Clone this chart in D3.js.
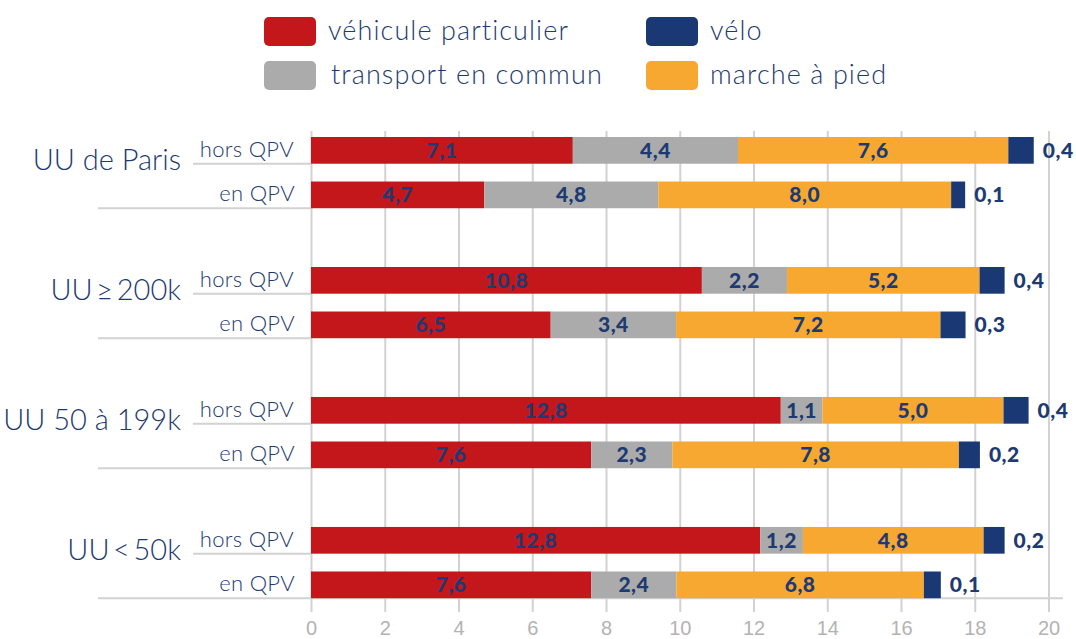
<!DOCTYPE html>
<meta charset="utf-8">
<style>
body { margin: 0; background: #fff; }
svg { font-family: Lato, "Open Sans", sans-serif; }
.x.axis .domain { display: none; }
.x.axis line { stroke: #d2d2d2; stroke-width: 2px; }
.x.axis text { fill: #b3b3b3; font-size: 20px; font-weight: 300; }
.sep { stroke: #d2d2d2; stroke-width: 2px; }
.grp { fill: #1d3a72; font-size: 29px; font-weight: 300; }
.row { fill: #1d3a72; font-size: 22px; font-weight: 300; letter-spacing: 0.3px; }
.val { fill: #1d3a72; font-size: 21px; font-weight: 900; letter-spacing: 0.5px; }
.leg { fill: #1d3a72; font-size: 27px; font-weight: 300; letter-spacing: 1.1px; }
</style>
<div id="chart"></div>
<script src="https://d3js.org/d3.v7.min.js"></script>
<script>

// categories
var groups = ["UU de Paris", "UU\u2009≥\u2009200k", "UU 50 à 199k", "UU\u2009<\u200950k"];
var rows = ["hors QPV", "en QPV"];
var modes = ["véhicule particulier", "transport en commun", "marche à pied", "vélo"];
var xTicks = [0, 2, 4, 6, 8, 10, 12, 14, 16, 18, 20];

// bar lengths as drawn (Paris hors, Paris en, >=200k hors, ...)
var voiture = [7.1, 4.7, 10.6, 6.5, 12.74, 7.6, 12.18, 7.6];
var transport = [4.48, 4.72, 2.31, 3.4, 1.13, 2.2, 1.16, 2.31];
var marche = [7.33, 7.94, 5.22, 7.17, 4.91, 7.77, 4.9, 6.71];
var velo = [0.69, 0.38, 0.68, 0.68, 0.68, 0.57, 0.57, 0.46];

// printed labels
var voitureLbl = ["7,1", "4,7", "10,8", "6,5", "12,8", "7,6", "12,8", "7,6"];
var transportLbl = ["4,4", "4,8", "2,2", "3,4", "1,1", "2,3", "1,2", "2,4"];
var marcheLbl = ["7,6", "8,0", "5,2", "7,2", "5,0", "7,8", "4,8", "6,8"];
var veloLbl = ["0,4", "0,1", "0,4", "0,3", "0,4", "0,2", "0,2", "0,1"];

var colors = d3.scaleOrdinal()
  .domain(modes)
  .range(["#c4171b", "#ababab", "#f6a830", "#1a3873"]);

var width = 1076, height = 639;

var svg = d3.select("#chart").append("svg")
  .attr("width", width)
  .attr("height", height);

var x = d3.scaleLinear().domain([0, 20]).range([311, 1048.5]);

var y0 = d3.scaleBand().domain(groups).range([128.1, 607.1]).paddingInner(0.315);
var y1 = d3.scaleBand().domain(rows).range([0, y0.bandwidth()]).paddingInner(0.4).paddingOuter(0.2);

// build table
var table = [];
groups.forEach(function(g, gi) {
  rows.forEach(function(r, ri) {
    var i = gi * 2 + ri;
    table.push({
      group: g, row: r,
      vals: [voiture[i], transport[i], marche[i], velo[i]],
      lbls: [voitureLbl[i], transportLbl[i], marcheLbl[i], veloLbl[i]]
    });
  });
});
table.forEach(function(d) {
  var acc = 0;
  d.segs = d.vals.map(function(v, k) {
    var s = { mode: modes[k], x0: acc, x1: acc + v, lbl: d.lbls[k] };
    acc += v;
    return s;
  });
  d.y = y0(d.group) + y1(d.row);
});

// gridlines + tick labels
svg.append("g")
  .attr("class", "x axis")
  .attr("transform", "translate(0,612)")
  .call(d3.axisBottom(x).tickValues(xTicks).tickSize(-481).tickPadding(9).tickFormat(d3.format("d")))
  .selectAll("text").attr("dy", "0.71em");

// separator lines on the left
table.forEach(function(d) {
  var yb = d.y + y1.bandwidth();
  var last = d.group === groups[groups.length - 1] && d.row === "en QPV";
  svg.append("line")
    .attr("class", "sep")
    .attr("x1", d.row === "hors QPV" ? 193 : 98)
    .attr("x2", last ? 1063 : x(0))
    .attr("y1", yb)
    .attr("y2", yb);
});

// bars
var bar = svg.selectAll(".bar")
  .data(table)
  .enter().append("g")
  .attr("class", "bar")
  .attr("transform", function(d) { return "translate(0," + d.y + ")"; });

bar.selectAll("rect")
  .data(function(d) { return d.segs; })
  .enter().append("rect")
  .attr("x", function(s) { return x(s.x0); })
  .attr("width", function(s) { return x(s.x1) - x(s.x0); })
  .attr("height", y1.bandwidth())
  .style("fill", function(s) { return colors(s.mode); });

bar.selectAll("text.val")
  .data(function(d) { return d.segs; })
  .enter().append("text")
  .attr("class", "val")
  .attr("x", function(s) {
    return s.mode === "vélo" ? x(s.x1) + 9 : (x(s.x0) + x(s.x1)) / 2;
  })
  .attr("y", y1.bandwidth() / 2)
  .attr("dy", "0.36em")
  .attr("text-anchor", function(s) { return s.mode === "vélo" ? "start" : "middle"; })
  .text(function(s) { return s.lbl; });

// row labels
bar.append("text")
  .attr("class", "row")
  .attr("x", function(d) { return d.row === "hors QPV" ? 294 : 295; })
  .attr("y", y1.bandwidth() / 2)
  .attr("dy", "0.3em")
  .attr("text-anchor", "end")
  .text(function(d) { return d.row; });

// group labels
svg.selectAll(".grp")
  .data(groups)
  .enter().append("text")
  .attr("class", "grp")
  .attr("x", 181)
  .attr("y", function(g) { return y0(g) + y1("hors QPV") + y1.bandwidth() + 6; })
  .attr("text-anchor", "end")
  .text(function(g) { return g; });

// legend
var legendOrder = ["véhicule particulier", "vélo", "transport en commun", "marche à pied"];
var legend = svg.selectAll(".legend")
  .data(legendOrder)
  .enter().append("g")
  .attr("class", "legend")
  .attr("transform", function(d, i) {
    return "translate(" + (i % 2 === 0 ? 264 : 646) + "," + (i < 2 ? 17 : 61) + ")";
  });
legend.append("rect")
  .attr("width", 52)
  .attr("height", 29)
  .attr("rx", 5)
  .style("fill", function(d) { return colors(d); });
legend.append("text")
  .attr("class", "leg")
  .attr("x", function(d) { return d === "transport en commun" ? 67 : 64; })
  .attr("y", 14)
  .attr("dy", "0.32em")
  .text(function(d) { return d; });
</script>
